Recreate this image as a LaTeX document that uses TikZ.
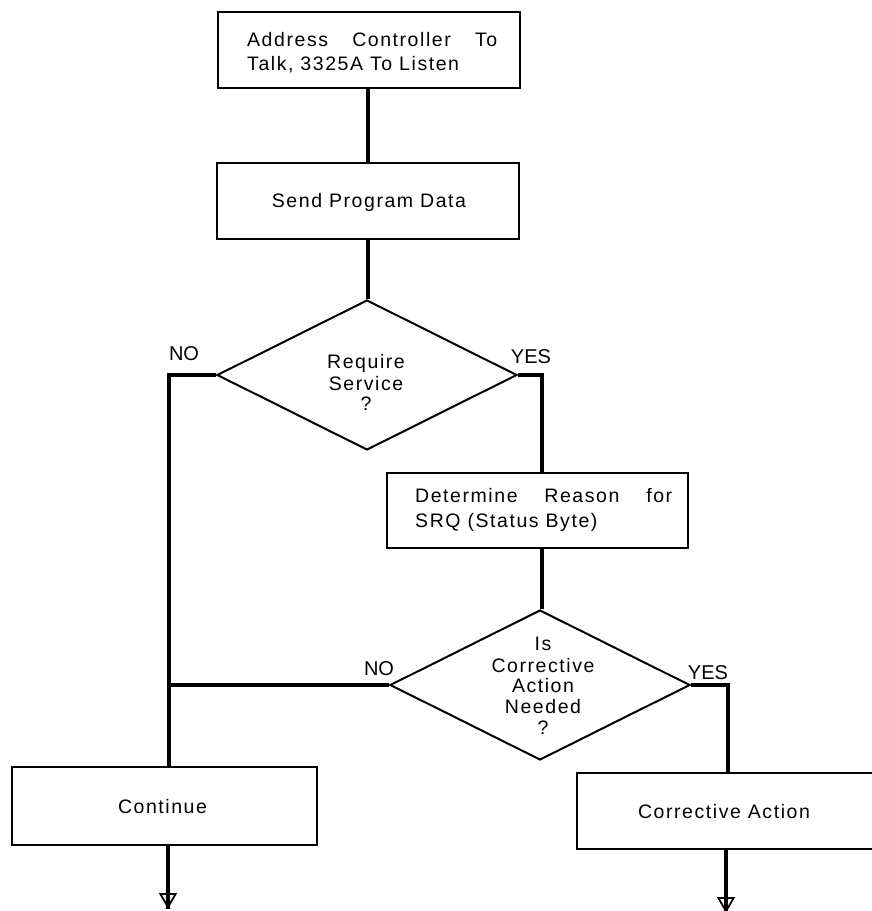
\documentclass[tikz,border=0pt]{standalone}
\usepackage{fontspec}
\setmainfont{Liberation Sans}[LetterSpace=8]
\newfontfamily\lblfont{Liberation Sans}
\usetikzlibrary{arrows.meta,shapes.geometric}
\begin{document}
\begin{tikzpicture}[x=1pt,y=-1pt,
  box/.style={draw, line width=2.4pt, inner sep=0pt},
  dia/.style={draw, diamond, aspect=2, line width=2pt, inner sep=0pt, minimum width=300pt, minimum height=150pt},
  txt/.style={font=\fontsize{19.5}{24}\selectfont, inner sep=0pt},
  lbl/.style={font=\lblfont\fontsize{20}{24}\selectfont, inner sep=0pt, anchor=base},
  conn/.style={line width=3.2pt},
  tipline/.style={line width=1.8pt, -{Triangle[open, width=18pt, length=16pt]}}
]
\useasboundingbox (0,0) rectangle (872,911);

% boxes
\node[box, minimum width=302pt, minimum height=76pt] (b1) at (369,50) {};
\node[box, minimum width=302pt, minimum height=76pt] (b2) at (368,201) {};
\node[box, minimum width=301pt, minimum height=75pt] (b3) at (537.5,510.5) {};
\node[box, minimum width=305pt, minimum height=78pt] (cont) at (164.5,806) {};
\node[box, minimum width=299pt, minimum height=76pt] (ca) at (726.5,811) {};

% diamonds
\node[dia] (d1) at (367,375) {};
\node[dia] (d2) at (540,685) {};

% texts
\node[txt, anchor=base west] (b1a) at (247,46) {\makebox[250pt][s]{Address\hfill Controller\hfill To}};
\node[txt, anchor=base west] (b1b) at (247,70) {Talk, 3325A To Listen};
\node[txt, anchor=base] (b2a) at (369,207) {Send Program Data};
\node[txt, anchor=base west] (b3a) at (415,502) {\makebox[257pt][s]{Determine\hfill Reason\hfill for}};
\node[txt, anchor=base west] (b3b) at (415,527) {SRQ (Status Byte)};
\node[txt, anchor=base] (d1a) at (366,368) {Require};
\node[txt, anchor=base] (d1b) at (366,390) {Service};
\node[txt, anchor=base] (d1c) at (366,410) {?};
\node[txt, anchor=base] (d2a) at (543,650) {Is};
\node[txt, anchor=base] (d2b) at (543,672) {Corrective};
\node[txt, anchor=base] (d2c) at (543,692) {Action};
\node[txt, anchor=base] (d2d) at (543,713) {Needed};
\node[txt, anchor=base] (d2e) at (543,734) {?};
\node[txt, anchor=base] (conta) at (162.5,813) {Continue};
\node[txt, anchor=base] (caa) at (724,818) {Corrective Action};

% branch labels
\node[lbl] (no1) at (184,360) {NO};
\node[lbl] (yes1) at (531,363) {YES};
\node[lbl] (no2) at (379,675) {NO};
\node[lbl] (yes2) at (708,679) {YES};

% connector coordinates
\coordinate (l1) at (169,374);
\coordinate (y1) at (542,377);
\coordinate (y2) at (728,687);
\coordinate (e1) at (168,909);
\coordinate (e2) at (726,913);

% connectors
\draw[conn] (b1.south -| b2.north) -- (b2.north);
\draw[conn] (b2.south) -- (b2.south |- d1.north);
\draw[conn] (d1.west) -- (d1.west -| l1) -- (l1 |- cont.north);
\draw[conn] (d1.east) -- (d1.east -| y1) -- (y1 |- b3.north);
\draw[conn] (y1 |- b3.south) -- (y1 |- d2.north);
\draw[conn] (d2.west) -- (d2.west -| l1);
\draw[conn] (d2.east) -- (d2.east -| y2) -- (y2 |- ca.north);
\draw[conn] (cont.south -| e1) -- (e1);
\draw[tipline] (cont.south -| e1) -- (e1);
\draw[conn] (ca.south -| e2) -- (e2);
\draw[tipline] (ca.south -| e2) -- (e2);
\end{tikzpicture}
\end{document}
